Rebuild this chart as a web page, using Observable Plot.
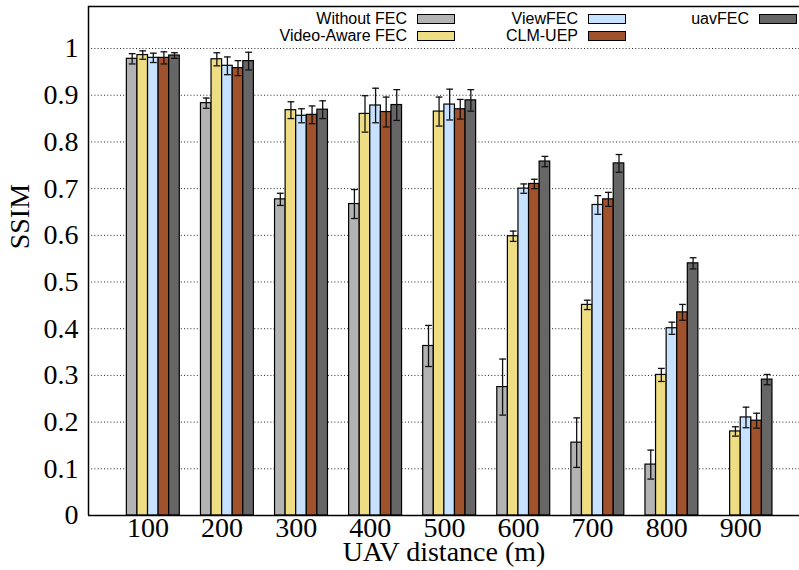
<!DOCTYPE html>
<html>
<head>
<meta charset="utf-8">
<script src="https://cdn.jsdelivr.net/npm/d3@7"></script>
<script src="https://cdn.jsdelivr.net/npm/@observablehq/plot@0.6"></script>
<style>
  html, body { margin: 0; padding: 0; background: #fff; }
  #wrap { position: relative; width: 799px; height: 570px; }
  .leg { position: absolute; display: flex; align-items: center; justify-content: flex-end;
         font-family: "Liberation Sans", Arial, sans-serif; font-size: 16px; color: #000;
         height: 17px; white-space: nowrap; }
  .leg .sw { width: 36px; height: 8px; border: 1px solid #000; margin-left: 10px; }
</style>
</head>
<body>
<div id="wrap"></div>
<script>
// ---- data ----
const distances = [100, 200, 300, 400, 500, 600, 700, 800, 900];
const seriesNames = ["Without FEC", "Video-Aware FEC", "ViewFEC", "CLM-UEP", "uavFEC"];
const seriesColors = ["#b3b3b3", "#eedd82", "#c6e2ff", "#a0522d", "#666666"];

const withoutFEC    = [0.978, 0.883, 0.677, 0.667, 0.363, 0.275, 0.156, 0.109, 0];
const withoutFECErr = [0.011, 0.011, 0.013, 0.031, 0.044, 0.060, 0.053, 0.031, 0];
const videoAware    = [0.986, 0.977, 0.868, 0.860, 0.865, 0.598, 0.451, 0.301, 0.180];
const videoAwareErr = [0.009, 0.014, 0.018, 0.039, 0.031, 0.011, 0.010, 0.014, 0.010];
const viewFEC       = [0.980, 0.963, 0.856, 0.878, 0.880, 0.700, 0.665, 0.401, 0.210];
const viewFECErr    = [0.010, 0.019, 0.015, 0.037, 0.033, 0.010, 0.020, 0.013, 0.022];
const clmUEP        = [0.980, 0.958, 0.858, 0.864, 0.870, 0.710, 0.677, 0.435, 0.203];
const clmUEPErr     = [0.013, 0.016, 0.019, 0.032, 0.021, 0.010, 0.015, 0.017, 0.016];
const uavFEC        = [0.985, 0.973, 0.869, 0.879, 0.889, 0.758, 0.754, 0.540, 0.291];
const uavFECErr     = [0.006, 0.019, 0.019, 0.033, 0.023, 0.011, 0.019, 0.012, 0.011];

const yTicks = [0, 0.1, 0.2, 0.3, 0.4, 0.5, 0.6, 0.7, 0.8, 0.9, 1];
const yGrid = yTicks.filter(d => d > 0);
const xLabel = "UAV distance (m)";
const yLabel = "SSIM";

// ---- build table ----
const values = [withoutFEC, videoAware, viewFEC, clmUEP, uavFEC];
const errors = [withoutFECErr, videoAwareErr, viewFECErr, clmUEPErr, uavFECErr];
const nS = seriesNames.length, gap = 2, slot = 1 / (nS + gap);
const rows = [];
distances.forEach((dist, i) => {
  seriesNames.forEach((s, j) => {
    const c = i + (j - (nS - 1) / 2) * slot;
    rows.push({i, dist, series: s, value: values[j][i], err: errors[j][i], c, x1: c - slot / 2, x2: c + slot / 2});
  });
});
const errRows = rows.filter(d => d.err > 0);
const cap = slot * 0.32;
const tickPos = distances.map((d, i) => i - slot / 2);
const xDomain = [-0.875, 8.722];
const yDomain = [0, 1.09];
const serif = "Liberation Serif, Times New Roman, serif";

const chart = Plot.plot({
  width: 799, height: 570,
  marginLeft: 88, marginRight: 0, marginTop: 6, marginBottom: 55,
  style: {background: "#fff", overflow: "visible"},
  x: {type: "linear", domain: xDomain},
  y: {domain: yDomain},
  color: {domain: seriesNames, range: seriesColors},
  marks: [
    Plot.ruleY(yGrid, {stroke: "#000", strokeWidth: 1, strokeDasharray: "1,2.2", strokeOpacity: 0.85}),
    Plot.rectY(rows, {x1: "x1", x2: "x2", y1: 0, y2: "value", fill: "series", stroke: "#000", strokeWidth: 1.2}),
    Plot.ruleX(errRows, {x: "c", y1: d => d.value - d.err, y2: d => d.value + d.err, stroke: "#111", strokeWidth: 1.3}),
    Plot.link(errRows, {x1: d => d.c - cap, x2: d => d.c + cap, y1: d => d.value + d.err, y2: d => d.value + d.err, stroke: "#111", strokeWidth: 1.3}),
    Plot.link(errRows, {x1: d => d.c - cap, x2: d => d.c + cap, y1: d => d.value - d.err, y2: d => d.value - d.err, stroke: "#111", strokeWidth: 1.3}),
    Plot.ruleY([yDomain[0]], {stroke: "#000", strokeWidth: 1.5}),
    Plot.ruleY([yDomain[1]], {stroke: "#000", strokeWidth: 1.5}),
    Plot.ruleX([xDomain[0]], {stroke: "#000", strokeWidth: 1.5}),
    Plot.axisY({ticks: yTicks, tickSize: 0, tickPadding: 10, fontSize: 28, fontFamily: serif, label: null,
                tickFormat: d => String(d)}),
    Plot.axisX({ticks: tickPos, tickSize: 0, tickPadding: 2, fontSize: 28, fontFamily: serif,
                tickFormat: (d, k) => String(distances[k]),
                label: null}),
    Plot.text([xLabel], {frameAnchor: "bottom", dy: 45, fontSize: 28, fontFamily: serif, fill: "#000"}),
    Plot.text([yLabel], {y: [0.57], frameAnchor: "left", dx: -68, rotate: -90, fontSize: 28, fontFamily: serif, fill: "#000"})
  ]
});
chart.setAttribute("font-family", serif);
const wrap = document.getElementById("wrap");
wrap.appendChild(chart);

// ---- legend (inside the plot, top) ----
const colRight = [455, 626, 797];
const rowTop = [10, 27];
seriesNames.forEach((s, k) => {
  const col = Math.floor(k / 2), row = k % 2;
  const el = document.createElement("div");
  el.className = "leg";
  el.style.right = (799 - colRight[col]) + "px";
  el.style.top = rowTop[row] + "px";
  el.innerHTML = `<span>${s}</span><span class="sw" style="background:${seriesColors[k]}"></span>`;
  wrap.appendChild(el);
});
</script>
</body>
</html>
